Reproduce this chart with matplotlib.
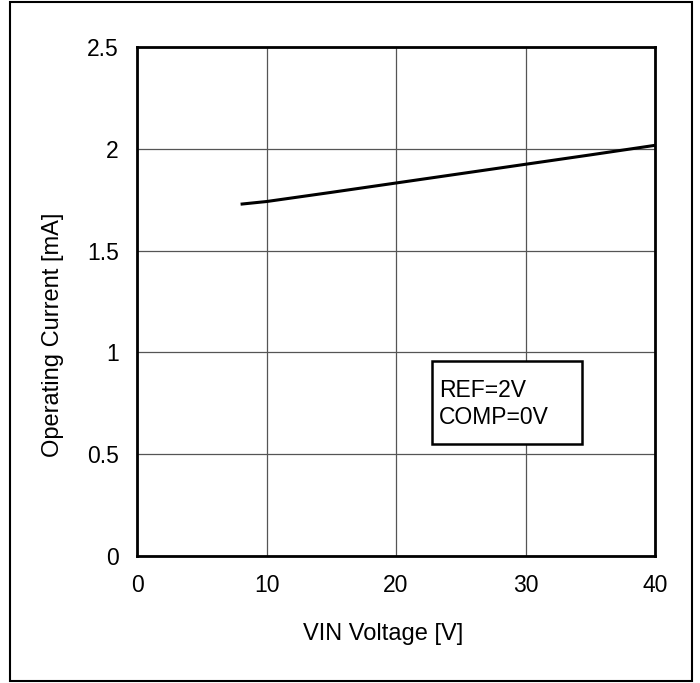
import matplotlib
matplotlib.use('Agg')
import matplotlib.pyplot as plt
from matplotlib.patches import Rectangle

plt.rcParams['font.family'] = ['Liberation Sans', 'DejaVu Sans']

vin = [8, 10, 15, 20, 25, 30, 35, 40]
current = [1.728, 1.741, 1.786, 1.832, 1.878, 1.924, 1.970, 2.017]

xticks = [0, 10, 20, 30, 40]
yticks = [0, 0.5, 1, 1.5, 2, 2.5]
yticklabels = ['0', '0.5', '1', '1.5', '2', '2.5']
note_lines = ['REF=2V', 'COMP=0V']

fig = plt.figure(figsize=(7, 6.83), dpi=100)
ax = fig.add_axes([137/700, 1-556/683, 518/700, 509/683])

ax.plot(vin, current, color='black', lw=2.2, solid_capstyle='butt', clip_on=False, zorder=3)
ax.set_xlim(0, 40)
ax.set_ylim(0, 2.5)
ax.set_xticks(xticks)
ax.set_yticks(yticks)
ax.set_yticklabels(yticklabels)
ax.grid(True, color='#555555', lw=0.9)
ax.tick_params(length=0, labelsize=16.5, pad=13)
for s in ax.spines.values():
    s.set_linewidth(2)
ax.set_xlabel('VIN Voltage [V]', fontsize=17)
ax.set_ylabel('Operating Current [mA]', fontsize=17)
ax.xaxis.set_label_coords(0.475, -0.153)
ax.yaxis.set_label_coords(-0.162, 0.434)
ax.xaxis.label.set_va('center')
ax.yaxis.label.set_va('center')

# note box
ax.add_patch(Rectangle((22.78, 0.55), 11.58, 0.408, fc='white', ec='black', lw=1.8, zorder=4))
ax.text(23.32, 0.781, note_lines[0], fontsize=16.5, va='baseline', ha='left', zorder=5)
ax.text(23.32, 0.649, note_lines[1], fontsize=16.5, va='baseline', ha='left', zorder=5)

fig.patches.append(Rectangle((10/700, 2/683), 682/700, 679/683, transform=fig.transFigure,
                             fill=False, ec='black', lw=1.5))

fig.savefig('out.png', dpi=100)
